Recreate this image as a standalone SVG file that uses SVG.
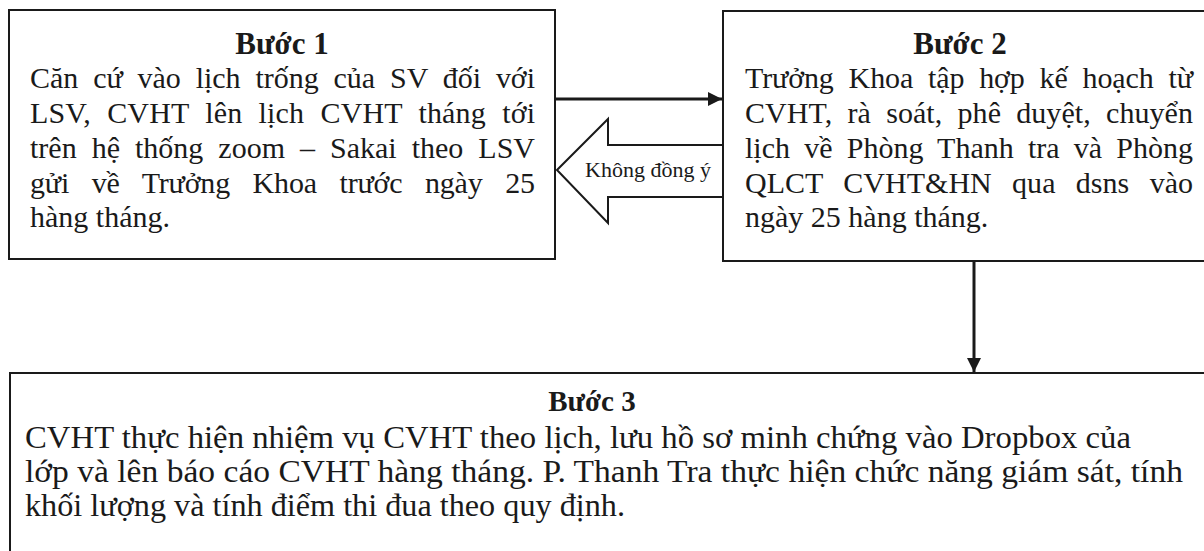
<svg xmlns="http://www.w3.org/2000/svg" width="1204" height="551" viewBox="0 0 1204 551">
<style>
.box{fill:#fff;stroke:#1a1a1a;stroke-width:2}
.t{font-family:"Liberation Serif","Times New Roman",serif;font-size:30px;fill:#1a1a1a}
.u{font-family:"Liberation Serif","Times New Roman",serif;font-size:31px;fill:#1a1a1a}
.h{font-family:"Liberation Serif","Times New Roman",serif;font-size:31px;font-weight:bold;fill:#1a1a1a;text-anchor:middle}
.h3{font-family:"Liberation Serif","Times New Roman",serif;font-size:29px;font-weight:bold;fill:#1a1a1a;text-anchor:middle}
.s{font-family:"Liberation Serif","Times New Roman",serif;font-size:22px;fill:#1a1a1a}
.ln{stroke:#1a1a1a;stroke-width:3;fill:none}
</style>
<defs>
<marker id="ah2" markerWidth="14" markerHeight="14" refX="14" refY="7" orient="auto" markerUnits="userSpaceOnUse" viewBox="0 0 14 14">
<path d="M0,0 L14,7 L0,14 z" fill="#1a1a1a"/>
</marker>
</defs>
<rect width="1204" height="551" fill="#fff"/>
<g id="step1">
<rect class="box" x="9" y="10" width="546" height="249"/>
<text class="h" x="282" y="54">Bước 1</text>
<text class="t" x="30" y="88" word-spacing="7.5" textLength="505" lengthAdjust="spacing">Căn cứ vào lịch trống của SV đối với</text>
<text class="t" x="30" y="123" word-spacing="8.7" textLength="505" lengthAdjust="spacing">LSV, CVHT lên lịch CVHT tháng tới</text>
<text class="t" x="30" y="158" word-spacing="7.5" textLength="505" lengthAdjust="spacing">trên hệ thống zoom – Sakai theo LSV</text>
<text class="t" x="30" y="193" word-spacing="15.3" textLength="505" lengthAdjust="spacing">gửi về Trưởng Khoa trước ngày 25</text>
<text class="t" x="30" y="227">hàng tháng.</text>
</g>
<g id="step2">
<rect class="box" x="723" y="11" width="500" height="250"/>
<text class="h" x="960" y="54">Bước 2</text>
<text class="t" x="745" y="88" word-spacing="7.5" textLength="448" lengthAdjust="spacing">Trưởng Khoa tập hợp kế hoạch từ</text>
<text class="t" x="745" y="123" word-spacing="7.6" textLength="448" lengthAdjust="spacing">CVHT, rà soát, phê duyệt, chuyển</text>
<text class="t" x="745" y="158" word-spacing="6.7" textLength="448" lengthAdjust="spacing">lịch về Phòng Thanh tra và Phòng</text>
<text class="t" x="745" y="193" word-spacing="12.8" textLength="448" lengthAdjust="spacing">QLCT CVHT&amp;HN qua dsns vào</text>
<text class="t" x="745" y="227">ngày 25 hàng tháng.</text>
</g>
<g id="step3">
<rect class="box" x="10" y="373" width="1220" height="200"/>
<text class="h3" x="592" y="411">Bước 3</text>
<text class="u" x="25" y="448" textLength="1106" lengthAdjust="spacingAndGlyphs">CVHT thực hiện nhiệm vụ CVHT theo lịch, lưu hồ sơ minh chứng vào Dropbox của</text>
<text class="u" x="25" y="482" textLength="1158" lengthAdjust="spacingAndGlyphs">lớp và lên báo cáo CVHT hàng tháng. P. Thanh Tra thực hiện chức năng giám sát, tính</text>
<text class="u" x="25" y="516" textLength="600" lengthAdjust="spacingAndGlyphs">khối lượng và tính điểm thi đua theo quy định.</text>
</g>
<g id="reject">
<polygon points="557,170 608,119 608,145 723,145 723,197 608,197 608,223" fill="#fff" stroke="#1a1a1a" stroke-width="2"/>
<text class="s" x="585" y="177">Không đồng ý</text>
</g>
<g id="connectors">
<line class="ln" x1="556" y1="99" x2="722" y2="99" marker-end="url(#ah2)"/>
<line class="ln" x1="974" y1="262" x2="974" y2="372" marker-end="url(#ah2)"/>
</g>
</svg>
